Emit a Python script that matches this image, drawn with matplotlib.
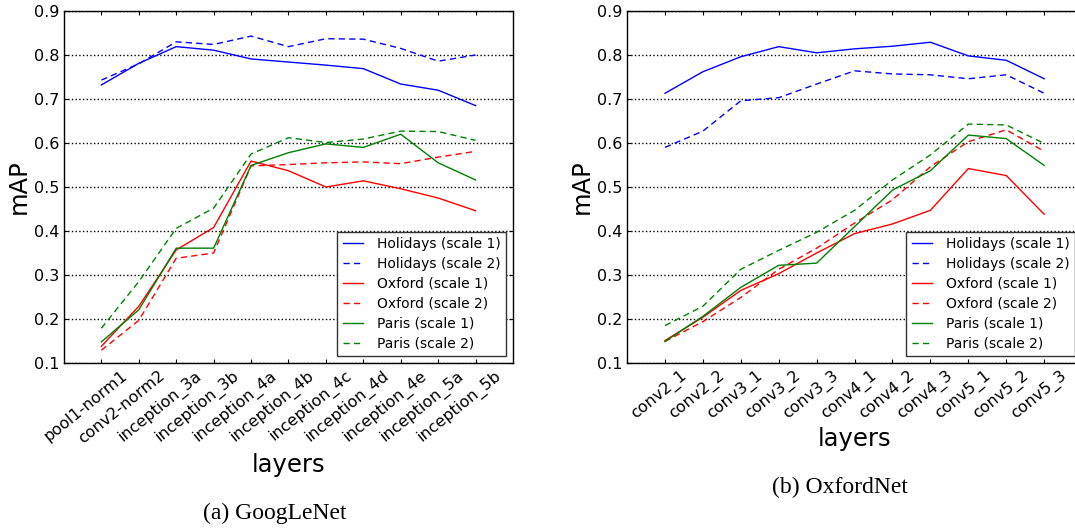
import matplotlib
matplotlib.use('Agg')
import matplotlib.pyplot as plt
import matplotlib.transforms as mtransforms
import numpy as np

google_layers = ['pool1-norm1', 'conv2-norm2', 'inception_3a', 'inception_3b', 'inception_4a',
                 'inception_4b', 'inception_4c', 'inception_4d', 'inception_4e', 'inception_5a',
                 'inception_5b']
g_holidays_1 = [0.732, 0.781, 0.819, 0.811, 0.791, 0.784, 0.777, 0.769, 0.734, 0.720, 0.685]
g_holidays_2 = [0.743, 0.780, 0.830, 0.824, 0.843, 0.819, 0.837, 0.836, 0.815, 0.786, 0.800]
g_oxford_1 = [0.138, 0.229, 0.357, 0.408, 0.559, 0.537, 0.500, 0.514, 0.496, 0.475, 0.446]
g_oxford_2 = [0.129, 0.197, 0.338, 0.350, 0.548, 0.551, 0.555, 0.557, 0.553, 0.568, 0.581]
g_paris_1 = [0.148, 0.221, 0.361, 0.361, 0.549, 0.578, 0.598, 0.590, 0.620, 0.555, 0.516]
g_paris_2 = [0.179, 0.285, 0.406, 0.452, 0.575, 0.612, 0.601, 0.609, 0.627, 0.626, 0.606]

oxford_layers = ['conv2_1', 'conv2_2', 'conv3_1', 'conv3_2', 'conv3_3', 'conv4_1', 'conv4_2',
                 'conv4_3', 'conv5_1', 'conv5_2', 'conv5_3']
o_holidays_1 = [0.713, 0.762, 0.796, 0.819, 0.805, 0.814, 0.820, 0.829, 0.798, 0.788, 0.746]
o_holidays_2 = [0.590, 0.627, 0.696, 0.703, 0.734, 0.764, 0.757, 0.755, 0.746, 0.755, 0.713]
o_oxford_1 = [0.151, 0.204, 0.265, 0.303, 0.350, 0.394, 0.416, 0.447, 0.542, 0.526, 0.438]
o_oxford_2 = [0.149, 0.194, 0.249, 0.313, 0.361, 0.418, 0.471, 0.546, 0.603, 0.630, 0.581]
o_paris_1 = [0.149, 0.206, 0.272, 0.322, 0.327, 0.410, 0.493, 0.537, 0.618, 0.610, 0.549]
o_paris_2 = [0.185, 0.229, 0.313, 0.356, 0.397, 0.447, 0.516, 0.573, 0.643, 0.641, 0.599]

labels = ['Holidays (scale 1)', 'Holidays (scale 2)', 'Oxford (scale 1)',
          'Oxford (scale 2)', 'Paris (scale 1)', 'Paris (scale 2)']
colors = ['b', 'b', 'r', 'r', 'g', 'g']

fig = plt.figure(figsize=(10.75, 5.29), dpi=100)


def draw(ax, layers, series, xlabel_y, label_shift):
    x = np.arange(len(layers))
    for i, (vals, lab, c) in enumerate(zip(series, labels, colors)):
        if i % 2 == 0:
            ax.plot(x, vals, color=c, lw=1, label=lab)
        else:
            ax.plot(x, vals, color=c, lw=1, label=lab, dashes=(4.5, 3))
    ax.set_xlim(-1, len(layers))
    ax.set_ylim(0.1, 0.9)
    ax.set_xticks(x)
    ax.tick_params(axis='y', labelsize=11.5)
    ax.tick_params(direction='in', top=True, right=True, length=3, width=0.8)
    ax.set_xticklabels(layers, rotation=39, ha='right', va='top', rotation_mode='anchor',
                       fontsize=11.5)
    # shift rotated tick labels a bit to the right, like the original
    # (done after tick_params, which would reset the transform)
    offset = mtransforms.ScaledTranslation(label_shift / 100, 0, fig.dpi_scale_trans)
    for lbl in ax.get_xticklabels():
        lbl.set_transform(lbl.get_transform() + offset)
    ax.yaxis.grid(True, linestyle=':', color='k', lw=1)
    ax.set_ylabel('mAP', fontsize=17.5)
    ax.set_xlabel('layers', fontsize=17.5)
    ax.yaxis.set_label_coords(-0.074, 0.5)
    ax.xaxis.set_label_coords(0.5, xlabel_y)
    leg = ax.legend(loc='lower right', fontsize=10, fancybox=False, framealpha=1,
                    handlelength=1.45, handletextpad=1.0, labelspacing=0.42, borderpad=0.4)
    leg.get_frame().set_edgecolor('#333333')
    for s in ax.spines.values():
        s.set_linewidth(1)


ax1 = fig.add_axes([0.0595, 0.3138, 0.4177, 0.6654])
draw(ax1, google_layers, [g_holidays_1, g_holidays_2, g_oxford_1, g_oxford_2, g_paris_1, g_paris_2],
     -0.256, 19)

ax2 = fig.add_axes([0.5833, 0.3138, 0.4233, 0.6654])
draw(ax2, oxford_layers, [o_holidays_1, o_holidays_2, o_oxford_1, o_oxford_2, o_paris_1, o_paris_2],
     -0.182, 15)

fig.text(275 / 1075, 1 - 513 / 529, '(a) GoogLeNet', family='Liberation Serif', fontsize=17,
         ha='center', va='center')
fig.text(840 / 1075, 1 - 487 / 529, '(b) OxfordNet', family='Liberation Serif', fontsize=17,
         ha='center', va='center')

fig.savefig('out.png', dpi=100)
